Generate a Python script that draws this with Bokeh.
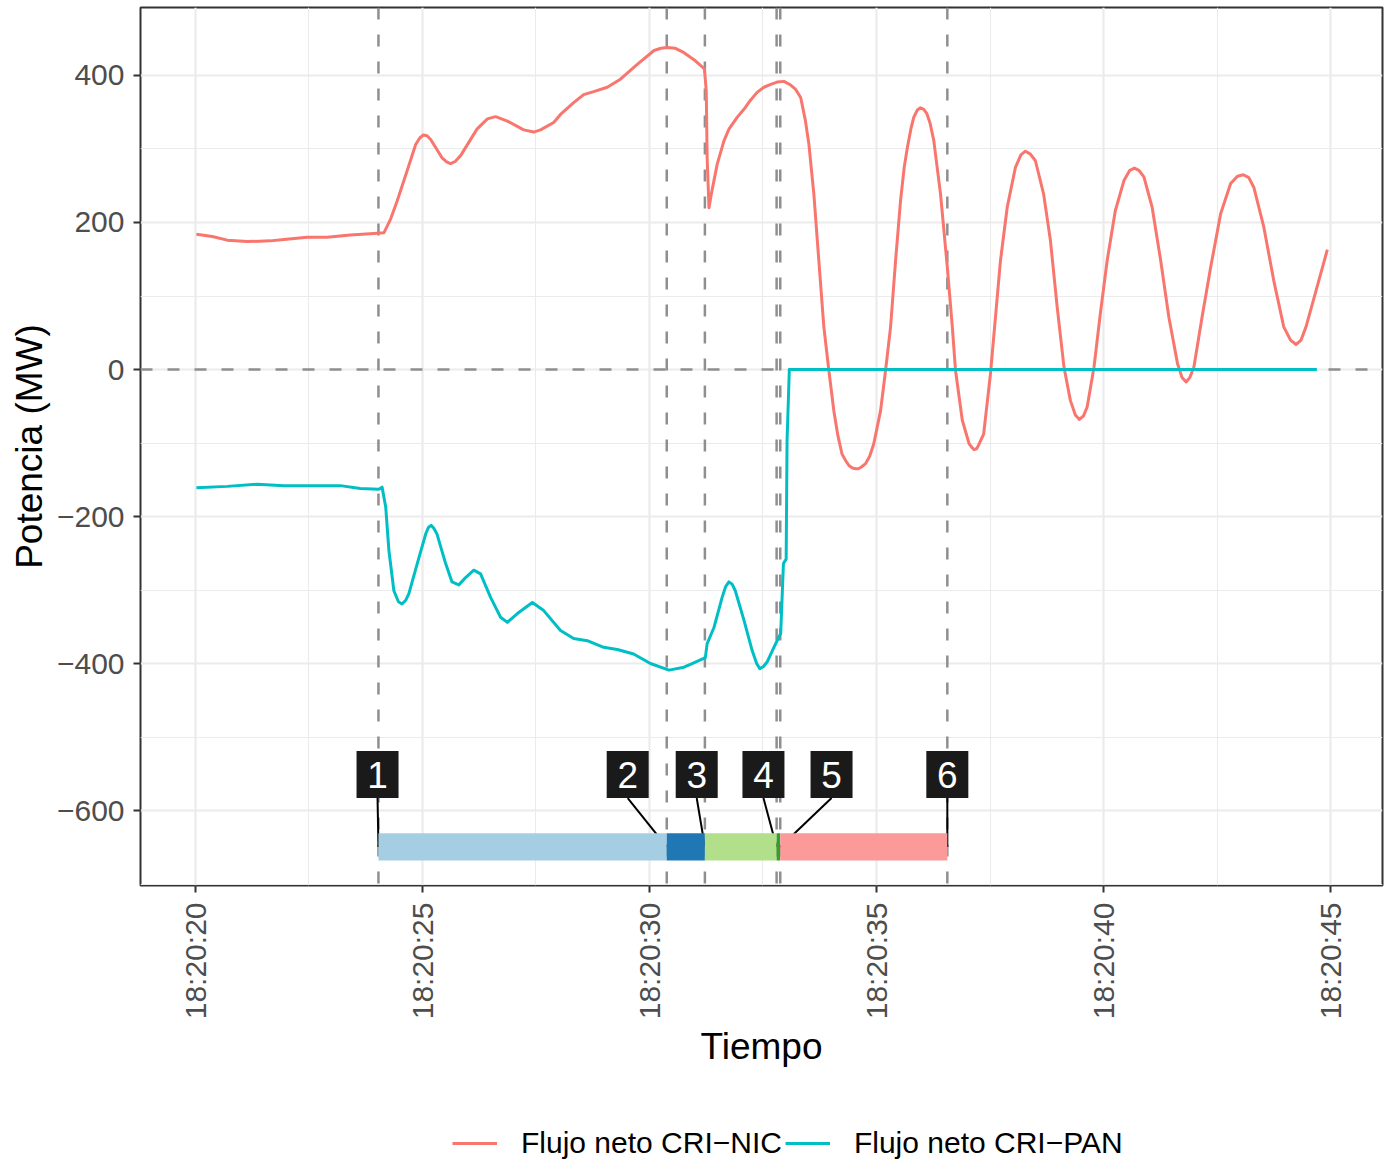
from bokeh.plotting import figure
from bokeh.layouts import column
from bokeh.models import (Range1d, FixedTicker, Span, Legend, LegendItem)
from bokeh.core.properties import value
from bokeh.embed import file_html
from bokeh.resources import INLINE

# ---------------- data ----------------
# time in seconds after 18:20:00
nic_t = [20.02, 20.37, 20.70, 21.14, 21.65, 21.95, 22.46, 22.90, 23.41, 23.93,
         24.15, 24.30, 24.44, 24.66, 24.85, 24.94, 25.02, 25.10, 25.18, 25.43,
         25.54, 25.62, 25.72, 25.84, 26.20, 26.43, 26.61, 26.87, 27.23, 27.45,
         27.60, 27.89, 28.04, 28.33, 28.55, 28.77, 29.07, 29.36, 29.73, 30.10,
         30.25, 30.39, 30.57, 30.76, 31.01, 31.21, 31.25, 31.27, 31.31, 31.36,
         31.42, 31.49, 31.64, 31.75, 31.93, 32.08, 32.22, 32.37, 32.52, 32.67,
         32.81, 32.96, 33.11, 33.22, 33.33, 33.43, 33.51, 33.62, 33.73, 33.84,
         33.95, 34.06, 34.15, 34.24, 34.33, 34.40, 34.47, 34.54, 34.60, 34.66,
         34.76, 34.85, 34.94, 35.09, 35.20, 35.31, 35.42, 35.53, 35.61, 35.68,
         35.76, 35.82, 35.90, 35.97, 36.04, 36.11, 36.18, 36.26, 36.41, 36.56,
         36.67, 36.74, 36.89, 37.04, 37.10, 37.15, 37.20, 37.24, 37.36, 37.51,
         37.62, 37.73, 37.88, 38.06, 38.18, 38.28, 38.39, 38.50, 38.68, 38.83,
         38.98, 39.13, 39.27, 39.38, 39.47, 39.56, 39.64, 39.79, 39.93, 40.08,
         40.26, 40.45, 40.58, 40.68, 40.78, 40.89, 41.07, 41.26, 41.44, 41.63,
         41.73, 41.82, 41.90, 41.99, 42.17, 42.36, 42.58, 42.80, 42.95, 43.08,
         43.20, 43.31, 43.53, 43.75, 43.97, 44.12, 44.24, 44.35, 44.46, 44.68,
         44.93]
nic_mw = [184, 181, 176, 174, 175, 177, 180, 180, 183, 185,
          186, 205, 229, 270, 306, 315, 319, 318, 313, 288,
          282, 280, 283, 291, 327, 341, 344, 338, 326, 323,
          326, 336, 347, 363, 374, 378, 384, 395, 415, 434,
          437, 438, 437, 431, 420, 409, 379, 288, 220, 238,
          257, 279, 311, 327, 343, 354, 366, 377, 384, 388,
          391, 392, 387, 381, 370, 340, 307, 239, 148, 58,
          -1, -56, -90, -115, -125, -131, -134, -135, -135, -133,
          -128, -118, -101, -56, -1, 58, 148, 230, 275, 302,
          328, 343, 353, 356, 354, 348, 335, 312, 239, 139,
          58, -1, -69, -101, -106, -109, -108, -104, -88, -6,
          71, 148, 221, 275, 292, 297, 293, 284, 239, 176,
          85, 3, -42, -62, -68, -63, -51, 3, 76, 148,
          216, 257, 271, 274, 271, 262, 221, 148, 71, 8,
          -11, -17, -11, 3, 71, 139, 212, 253, 263, 265,
          261, 248, 194, 121, 58, 40, 34, 40, 58, 107,
          163]

pan_t = [20.02, 20.70, 21.36, 21.95, 22.61, 23.19, 23.63, 24.04, 24.11, 24.19,
         24.26, 24.37, 24.47, 24.55, 24.63, 24.70, 24.88, 25.07, 25.13, 25.19,
         25.25, 25.32, 25.51, 25.65, 25.80, 25.95, 26.13, 26.28, 26.50, 26.72,
         26.87, 27.09, 27.42, 27.67, 28.04, 28.33, 28.63, 28.99, 29.29, 29.65,
         30.02, 30.43, 30.76, 31.05, 31.23, 31.27, 31.42, 31.60, 31.68, 31.75,
         31.82, 31.89, 32.08, 32.26, 32.36, 32.43, 32.51, 32.59, 32.74, 32.89,
         32.95, 33.01, 33.03, 33.08, 36.00, 40.00, 44.70]
pan_mw = [-161, -159, -156, -158, -158, -158, -162, -163, -160, -187,
          -246, -301, -316, -319, -314, -305, -265, -224, -215, -212,
          -216, -224, -264, -289, -293, -283, -273, -278, -310, -337,
          -344, -332, -317, -328, -355, -366, -369, -378, -381, -387,
          -400, -409, -405, -397, -392, -373, -351, -310, -295, -289,
          -292, -301, -341, -382, -400, -407, -404, -398, -378, -359,
          -264, -258, -97, 0, 0, 0, 0]

# event marks (dashed vertical lines)
event_t = [24.03, 30.38, 31.22, 32.80, 32.88, 36.56]

# stage bar segments
stage_start = [24.03, 30.38, 31.22, 32.80, 32.88]
stage_end = [30.38, 31.22, 32.80, 32.88, 36.56]
stage_color = ["#A6CEE3", "#1F78B4", "#B2DF8A", "#33A02C", "#FB9A99"]

# numbered labels
label_text = ["1", "2", "3", "4", "5", "6"]
label_t = [24.01, 29.52, 31.04, 32.51, 34.01, 36.56]
label_target = [24.03, 30.38, 31.22, 32.80, 32.88, 36.56]

# ticks
x_ticks = [20, 25, 30, 35, 40, 45]
x_tick_labels = ["18:20:20", "18:20:25", "18:20:30", "18:20:35", "18:20:40", "18:20:45"]
x_minor = [17.5, 22.5, 27.5, 32.5, 37.5, 42.5, 47.5]
y_ticks = [-600, -400, -200, 0, 200, 400]
y_tick_labels = ["\u2212600", "\u2212400", "\u2212200", "0", "200", "400"]
y_minor = [-700, -500, -300, -100, 100, 300, 500]

series_names = ["Flujo neto CRI\u2212NIC", "Flujo neto CRI\u2212PAN"]
series_colors = ["#F8766D", "#00BFC4"]

# layout constants
BAR_BOTTOM, BAR_TOP = -668, -631
BAR_MID = (BAR_BOTTOM + BAR_TOP) / 2
LABEL_Y = -551
LABEL_BOTTOM = -583

FONT = "Liberation Sans"
W = 1384
H_MAIN = 1073
H_LEG = 87

p = figure(width=W, height=H_MAIN,
           x_range=Range1d(18.789, 46.145), y_range=Range1d(-702, 492.5),
           output_backend="svg", toolbar_location=None,
           min_border_left=140, min_border_right=2, min_border_top=7,
           min_border_bottom=188, background_fill_color="white",
           border_fill_color="white")

p.outline_line_color = "#333333"
p.outline_line_width = 2

p.xaxis.ticker = FixedTicker(ticks=x_ticks, minor_ticks=x_minor)
p.yaxis.ticker = FixedTicker(ticks=y_ticks, minor_ticks=y_minor)
p.xaxis.major_label_overrides = {t: l for t, l in zip(x_ticks, x_tick_labels)}
p.yaxis.major_label_overrides = {t: l for t, l in zip(y_ticks, y_tick_labels)}
for g in (p.xgrid, p.ygrid):
    g.grid_line_color = "#EBEBEB"
    g.grid_line_width = 2.2
    g.minor_grid_line_color = "#EBEBEB"
    g.minor_grid_line_width = 1.1

for ax in (p.xaxis, p.yaxis):
    ax.axis_line_color = None
    ax.major_tick_line_color = "#333333"
    ax.major_tick_line_width = 2
    ax.major_tick_out = 7
    ax.major_tick_in = 0
    ax.minor_tick_line_color = None
    ax.major_label_text_font = FONT
    ax.major_label_text_font_size = "30px"
    ax.major_label_text_color = "#4D4D4D"
    ax.axis_label_text_font = FONT
    ax.axis_label_text_font_size = "37px"
    ax.axis_label_text_font_style = "normal"
    ax.axis_label_text_color = "black"

p.xaxis.axis_label = "Tiempo"
p.yaxis.axis_label = "Potencia (MW)"
p.xaxis.major_label_orientation = 1.5707963
p.xaxis.major_label_standoff = 10
p.xaxis.axis_label_standoff = 4
p.yaxis.major_label_standoff = 9
p.yaxis.axis_label_standoff = 4

# dashed reference lines
for t in event_t:
    p.add_layout(Span(location=t, dimension="height", line_color="#8F8F8F",
                      line_width=2.5, line_dash="12 15", level="underlay"))
p.add_layout(Span(location=0, dimension="width", line_color="#8F8F8F",
                  line_width=2.5, line_dash="12 15", level="underlay"))

# series
p.line(nic_t, nic_mw, line_color=series_colors[0], line_width=3,
       line_join="round")
p.line(pan_t, pan_mw, line_color=series_colors[1], line_width=3,
       line_join="round")

# leader lines
p.segment(x0=label_t, y0=[LABEL_BOTTOM] * len(label_t), x1=label_target,
          y1=[BAR_MID] * len(label_t), line_color="black", line_width=2)

# stage bar
p.quad(left=stage_start, right=stage_end, bottom=BAR_BOTTOM, top=BAR_TOP,
       fill_color=stage_color, line_color=None)

# label boxes
p.rect(x=label_t, y=LABEL_Y, width=42, height=47, width_units="screen",
       height_units="screen", fill_color="#1A1A1A", line_color=None)
p.text(x=label_t, y=LABEL_Y, text=label_text, text_color="white",
       text_font=value(FONT), text_font_size="37px", text_align="center",
       text_baseline="middle")

# ---------------- legend strip ----------------
# the key lines reuse the series but sit outside this strip's ranges
pl = figure(width=W, height=H_LEG, x_range=Range1d(0, 1), y_range=Range1d(0, 1),
            output_backend="svg", toolbar_location=None, min_border=0,
            outline_line_color=None, background_fill_color="white",
            border_fill_color="white")
pl.axis.visible = False
pl.grid.visible = False
k1 = pl.line(nic_t, nic_mw, line_color=series_colors[0], line_width=3)
k2 = pl.line(pan_t, pan_mw, line_color=series_colors[1], line_width=3)
legend = Legend(items=[LegendItem(label=series_names[0], renderers=[k1]),
                       LegendItem(label=series_names[1], renderers=[k2])],
                orientation="horizontal", location=(312, 0),
                glyph_width=45, glyph_height=20, label_standoff=24, spacing=3,
                label_text_font=FONT, label_text_font_size="30px",
                label_text_color="black",
                border_line_color=None, background_fill_alpha=0,
                margin=0, padding=0)
pl.add_layout(legend, "center")

layout = column(p, pl, spacing=0)
open("out.html", "w").write(file_html(layout, INLINE))
